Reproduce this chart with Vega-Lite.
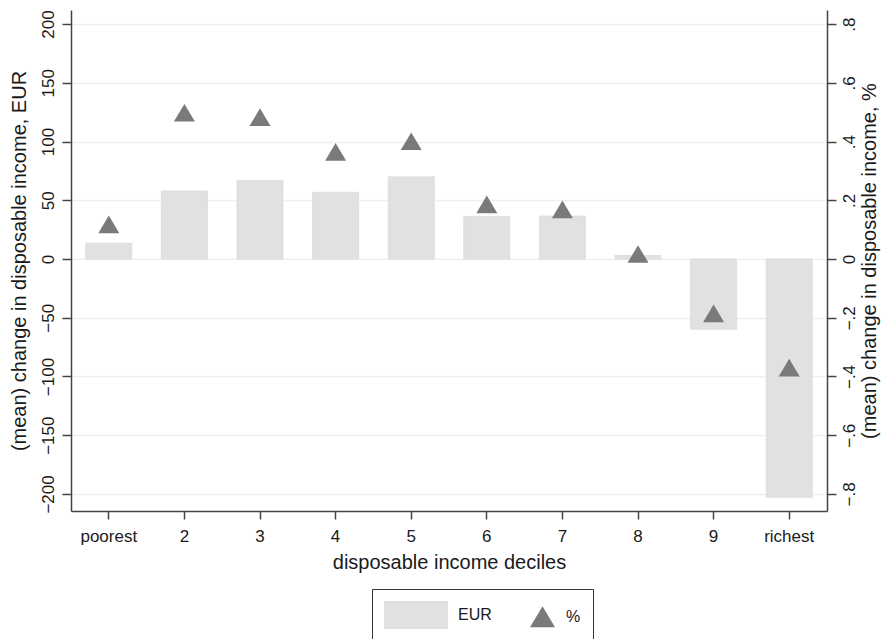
{
  "$schema": "https://vega.github.io/schema/vega-lite/v6.json",
  "autosize": "none",
  "padding": {"left": 71, "top": 10, "right": 61, "bottom": 128},
  "width": 756,
  "height": 501,
  "background": "white",
  "config": {
    "view": {"stroke": null},
    "font": "Liberation Sans",
    "axis": {
      "labelFont": "Liberation Sans",
      "titleFont": "Liberation Sans",
      "labelColor": "#1a1a1a",
      "titleColor": "#1a1a1a",
      "titleFontWeight": "normal",
      "domainColor": "#444444",
      "domainWidth": 1.5,
      "tickColor": "#444444",
      "tickWidth": 1.5
    },
    "legend": {
      "direction": "horizontal",
      "padding": 12,
      "strokeColor": "#333333",
      "fillColor": "white",
      "symbolSize": 784,
      "symbolOpacity": 1,
      "symbolStrokeWidth": 0,
      "symbolOffset": 36.5,
      "labelOffset": 9.5,
      "labelFontSize": 16,
      "labelFont": "Liberation Sans",
      "labelColor": "#1a1a1a",
      "columnPadding": 0
    }
  },
  "datasets": {
    "eur": [
      {"decile": "poorest", "value": 13.4, "series": "EUR"},
      {"decile": "2", "value": 57.9, "series": "EUR"},
      {"decile": "3", "value": 67.0, "series": "EUR"},
      {"decile": "4", "value": 56.8, "series": "EUR"},
      {"decile": "5", "value": 70.0, "series": "EUR"},
      {"decile": "6", "value": 36.3, "series": "EUR"},
      {"decile": "7", "value": 36.6, "series": "EUR"},
      {"decile": "8", "value": 3.0, "series": "EUR"},
      {"decile": "9", "value": -59.8, "series": "EUR"},
      {"decile": "richest", "value": -202.8, "series": "EUR"}
    ],
    "pct": [
      {"decile": "poorest", "value": 0.118, "series": "%"},
      {"decile": "2", "value": 0.498, "series": "%"},
      {"decile": "3", "value": 0.483, "series": "%"},
      {"decile": "4", "value": 0.365, "series": "%"},
      {"decile": "5", "value": 0.401, "series": "%"},
      {"decile": "6", "value": 0.186, "series": "%"},
      {"decile": "7", "value": 0.169, "series": "%"},
      {"decile": "8", "value": 0.017, "series": "%"},
      {"decile": "9", "value": -0.185, "series": "%"},
      {"decile": "richest", "value": -0.37, "series": "%"}
    ]
  },
  "encoding": {
    "x": {
      "field": "decile",
      "type": "ordinal",
      "sort": ["poorest", "2", "3", "4", "5", "6", "7", "8", "9", "richest"],
      "scale": {"paddingInner": 0.39, "paddingOuter": 0.195},
      "axis": {
        "title": "disposable income deciles",
        "labelAngle": 0,
        "labelFontSize": 17,
        "labelPadding": 9,
        "tickSize": 8,
        "titleFontSize": 20,
        "titlePadding": 8,
        "grid": false
      }
    }
  },
  "layer": [
    {
      "data": {"name": "eur"},
      "mark": {"type": "bar", "opacity": 1, "stroke": "#dcdcdc", "strokeWidth": 0.8},
      "encoding": {
        "y": {
          "field": "value",
          "type": "quantitative",
          "scale": {"domain": [-214.5, 212], "nice": false, "zero": false},
          "axis": {
            "orient": "left",
            "title": "(mean) change in disposable income, EUR",
            "values": [-200, -150, -100, -50, 0, 50, 100, 150, 200],
            "labelAngle": -90,
            "labelAlign": "center",
            "labelBaseline": "bottom",
            "labelFontSize": 17,
            "labelPadding": 5,
            "tickSize": 9,
            "titleFontSize": 20,
            "titlePadding": 10,
            "grid": true,
            "gridColor": "#efefef",
            "gridWidth": 1.5
          }
        },
        "color": {
          "field": "series",
          "type": "nominal",
          "scale": {"domain": ["EUR", "%"], "range": ["#e1e1e1", "#7a7a7a"]},
          "legend": {"title": null, "orient": "none", "legendX": 301, "legendY": 579}
        }
      }
    },
    {
      "data": {"name": "pct"},
      "mark": {"type": "point", "filled": true, "opacity": 1, "size": 553},
      "encoding": {
        "y": {
          "field": "value",
          "type": "quantitative",
          "scale": {"domain": [-0.858, 0.848], "nice": false, "zero": false},
          "axis": {
            "orient": "right",
            "title": "(mean) change in disposable income, %",
            "values": [-0.8, -0.6, -0.4, -0.2, 0, 0.2, 0.4, 0.6, 0.8],
            "labelExpr": "datum.value == 0 ? '0' : replace(format(datum.value, '.1f'), '0.', '.')",
            "labelAngle": -90,
            "labelAlign": "center",
            "labelBaseline": "top",
            "labelFontSize": 17,
            "labelPadding": 5,
            "tickSize": 9,
            "titleFontSize": 20,
            "titleAngle": 270,
            "titleBaseline": "top",
            "titlePadding": 2,
            "grid": false
          }
        },
        "color": {
          "field": "series",
          "type": "nominal",
          "legend": {"title": null, "orient": "none", "legendX": 301, "legendY": 579}
        },
        "shape": {
          "field": "series",
          "type": "nominal",
          "scale": {"domain": ["EUR", "%"], "range": ["M-3.607,-1H0.964V1H-3.607Z", "M0,-0.75L0.893,0.75L-0.893,0.75Z"]},
          "legend": {"title": null, "orient": "none", "legendX": 301, "legendY": 579}
        }
      }
    }
  ],
  "resolve": {"scale": {"y": "independent"}}
}
